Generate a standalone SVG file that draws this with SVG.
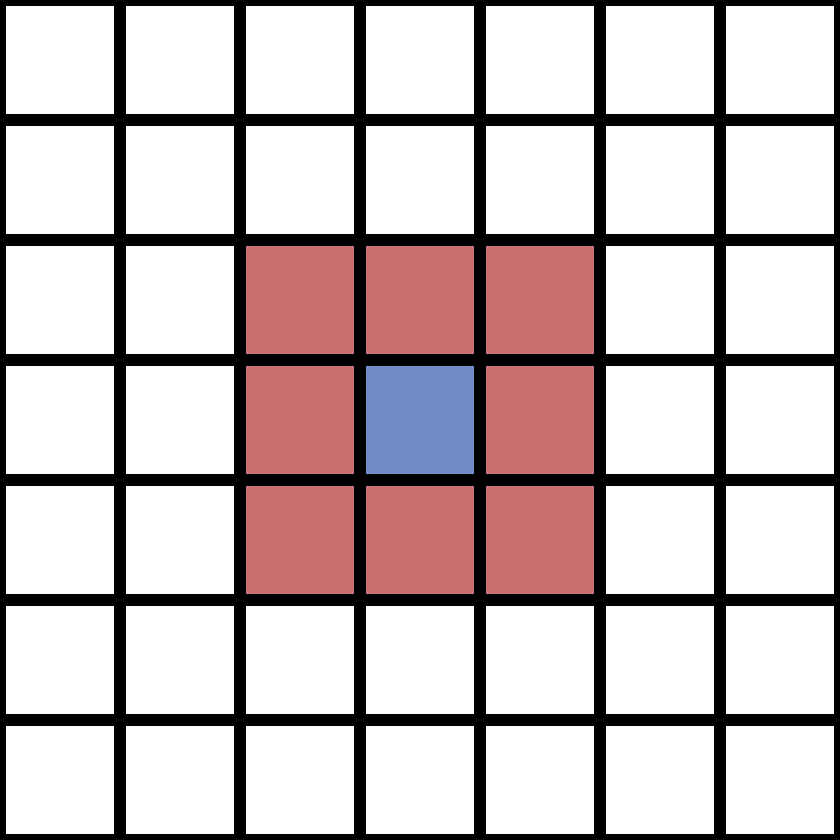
<svg xmlns="http://www.w3.org/2000/svg" width="840" height="840" viewBox="0 0 840 840">
<style>
.c{stroke:#000;stroke-width:6;fill:#fff}
.r{fill:#c87070}
.b{fill:#708cc8}
</style>
<rect width="840" height="840" fill="#fff"/>
<g id="grid">
<g id="row0"><rect class="c" x="3" y="3" width="114" height="114"/><rect class="c" x="123" y="3" width="114" height="114"/><rect class="c" x="243" y="3" width="114" height="114"/><rect class="c" x="363" y="3" width="114" height="114"/><rect class="c" x="483" y="3" width="114" height="114"/><rect class="c" x="603" y="3" width="114" height="114"/><rect class="c" x="723" y="3" width="114" height="114"/></g>
<g id="row1"><rect class="c" x="3" y="123" width="114" height="114"/><rect class="c" x="123" y="123" width="114" height="114"/><rect class="c" x="243" y="123" width="114" height="114"/><rect class="c" x="363" y="123" width="114" height="114"/><rect class="c" x="483" y="123" width="114" height="114"/><rect class="c" x="603" y="123" width="114" height="114"/><rect class="c" x="723" y="123" width="114" height="114"/></g>
<g id="row2"><rect class="c" x="3" y="243" width="114" height="114"/><rect class="c" x="123" y="243" width="114" height="114"/><rect class="c r" x="243" y="243" width="114" height="114"/><rect class="c r" x="363" y="243" width="114" height="114"/><rect class="c r" x="483" y="243" width="114" height="114"/><rect class="c" x="603" y="243" width="114" height="114"/><rect class="c" x="723" y="243" width="114" height="114"/></g>
<g id="row3"><rect class="c" x="3" y="363" width="114" height="114"/><rect class="c" x="123" y="363" width="114" height="114"/><rect class="c r" x="243" y="363" width="114" height="114"/><rect class="c b" x="363" y="363" width="114" height="114"/><rect class="c r" x="483" y="363" width="114" height="114"/><rect class="c" x="603" y="363" width="114" height="114"/><rect class="c" x="723" y="363" width="114" height="114"/></g>
<g id="row4"><rect class="c" x="3" y="483" width="114" height="114"/><rect class="c" x="123" y="483" width="114" height="114"/><rect class="c r" x="243" y="483" width="114" height="114"/><rect class="c r" x="363" y="483" width="114" height="114"/><rect class="c r" x="483" y="483" width="114" height="114"/><rect class="c" x="603" y="483" width="114" height="114"/><rect class="c" x="723" y="483" width="114" height="114"/></g>
<g id="row5"><rect class="c" x="3" y="603" width="114" height="114"/><rect class="c" x="123" y="603" width="114" height="114"/><rect class="c" x="243" y="603" width="114" height="114"/><rect class="c" x="363" y="603" width="114" height="114"/><rect class="c" x="483" y="603" width="114" height="114"/><rect class="c" x="603" y="603" width="114" height="114"/><rect class="c" x="723" y="603" width="114" height="114"/></g>
<g id="row6"><rect class="c" x="3" y="723" width="114" height="114"/><rect class="c" x="123" y="723" width="114" height="114"/><rect class="c" x="243" y="723" width="114" height="114"/><rect class="c" x="363" y="723" width="114" height="114"/><rect class="c" x="483" y="723" width="114" height="114"/><rect class="c" x="603" y="723" width="114" height="114"/><rect class="c" x="723" y="723" width="114" height="114"/></g>
</g>
<g id="connectors"/>
</svg>
